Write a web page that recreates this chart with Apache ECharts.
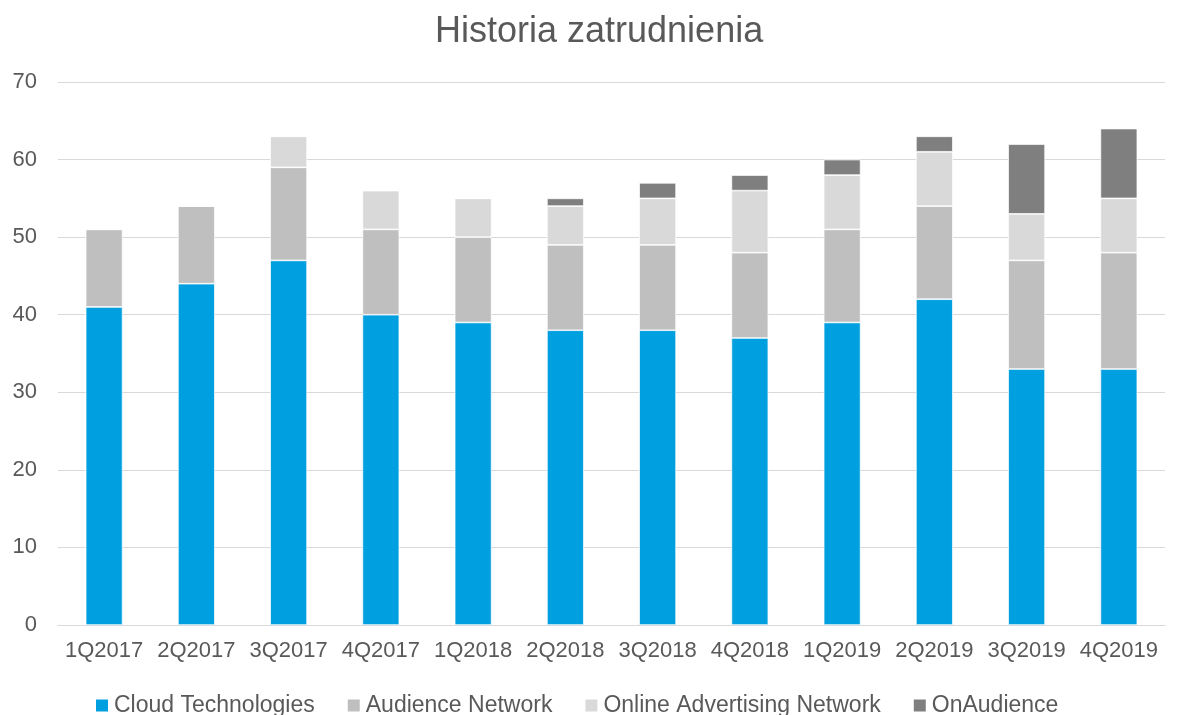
<!DOCTYPE html>
<html>
<head>
<meta charset="utf-8">
<script src="https://cdn.jsdelivr.net/npm/echarts@6/dist/echarts.min.js"></script>
<style>
  html, body { margin: 0; padding: 0; background: #fff; }
  #chart { width: 1178px; height: 715px; }
</style>
</head>
<body>
<div id="chart"></div>
<script>
var quarters = ['1Q2017', '2Q2017', '3Q2017', '4Q2017', '1Q2018', '2Q2018', '3Q2018', '4Q2018', '1Q2019', '2Q2019', '3Q2019', '4Q2019'];
var cloudTech = [41, 44, 47, 40, 39, 38, 38, 37, 39, 42, 33, 33];
var audienceNet = [10, 10, 12, 11, 11, 11, 11, 11, 12, 12, 14, 15];
var onlineAdv = [0, 0, 4, 5, 5, 5, 6, 8, 7, 7, 6, 7];
var onAudience = [0, 0, 0, 0, 0, 1, 2, 2, 2, 2, 9, 9];

var chartDom = document.getElementById('chart');
var myChart = echarts.init(chartDom);

var font = 'Liberation Sans, Arial, sans-serif';
var textColor = '#595959';

function makeSeries(name, data, color) {
    return {
        name: name,
        type: 'bar',
        stack: 'total',
        barWidth: '40%',
        data: data,
        itemStyle: { color: color, borderColor: '#fff', borderWidth: 0.7 }
    };
}

var option = {
    animation: false,
    textStyle: { fontFamily: font },
    title: {
        text: 'Historia zatrudnienia',
        left: 430,
        top: 9,
        textStyle: { fontFamily: font, fontSize: 36, fontWeight: 'normal', color: textColor }
    },
    legend: {
        top: 689,
        left: 89,
        itemWidth: 14,
        itemHeight: 14,
        itemGap: 31,
        icon: 'rect',
        textStyle: { fontFamily: font, fontSize: 23, color: textColor }
    },
    grid: {
        left: 58,
        right: 13,
        top: 82,
        bottom: 90
    },
    xAxis: {
        type: 'category',
        data: quarters,
        axisTick: { show: false },
        axisLine: { lineStyle: { color: '#d9d9d9', width: 1 } },
        axisLabel: { fontFamily: font, fontSize: 22, color: textColor, margin: 15, interval: 0 }
    },
    yAxis: {
        type: 'value',
        min: 0,
        max: 70,
        interval: 10,
        axisLine: { show: false },
        axisTick: { show: false },
        axisLabel: { fontFamily: font, fontSize: 22, color: textColor, margin: 21 },
        splitLine: { lineStyle: { color: '#d9d9d9', width: 1 } }
    },
    series: [
        makeSeries('Cloud Technologies', cloudTech, '#009fe0'),
        makeSeries('Audience Network', audienceNet, '#bfbfbf'),
        makeSeries('Online Advertising Network', onlineAdv, '#d9d9d9'),
        makeSeries('OnAudience', onAudience, '#7f7f7f')
    ]
};

myChart.setOption(option);
</script>
</body>
</html>
